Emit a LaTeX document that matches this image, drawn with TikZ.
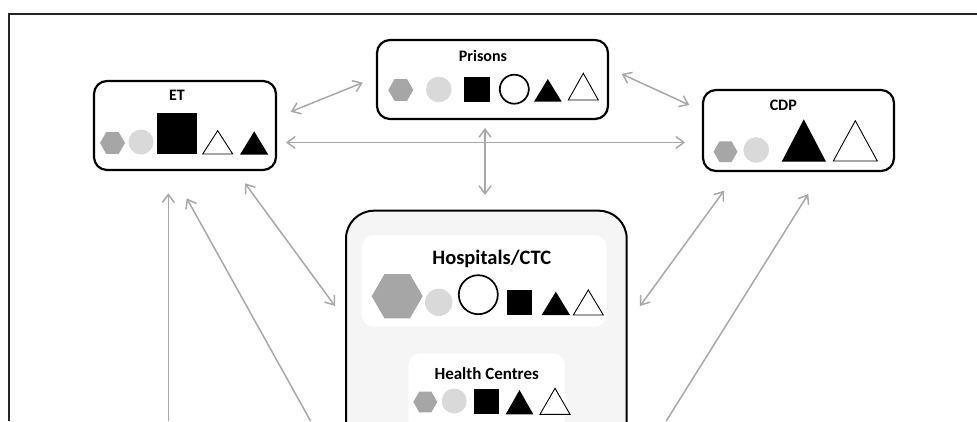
\documentclass[tikz,border=0pt]{standalone}
\usepackage{fontspec}
\setmainfont{Carlito}
\usetikzlibrary{shapes.geometric,arrows.meta}
\definecolor{hexgray}{RGB}{166,166,166}
\definecolor{cirgray}{RGB}{217,217,217}
\definecolor{arrgray}{RGB}{168,168,168}
\definecolor{panel}{RGB}{245,245,245}
\begin{document}
\begin{tikzpicture}[x=1pt,y=-1pt,
 box/.style={draw=black, line width=2.2pt, rounded corners=13pt, fill=white, inner sep=0pt},
 arr/.style={draw=arrgray, line width=1.5pt, {Straight Barb[length=8pt,width=12pt]}-{Straight Barb[length=8pt,width=12pt]}},
 uarr/.style={draw=arrgray, line width=1.5pt, -{Straight Barb[length=8pt,width=12pt]}},
 hexs/.style={regular polygon, regular polygon sides=6, inner sep=0pt, minimum size=#1, fill=hexgray},
 dotc/.style={circle, inner sep=0pt, minimum size=#1, fill=cirgray},
 ring/.style={circle, inner sep=0pt, minimum size=#1, draw=black, line width=1.7pt, fill=white},
 lbl/.style={font=\bfseries\fontsize{16}{19}\selectfont, inner sep=0pt, anchor=base},
 wtri/.style={draw=black, line width=0.9pt, fill=white, line join=miter},
 btri/.style={fill=black},
 ]
\useasboundingbox (0,0) rectangle (977,421);
% frame
\draw[line width=2pt, black!85] (9,421) -- (9,13.5) -- (977,13.5);

% arrow end coordinates
\coordinate (a1s) at (290.7,111.7); \coordinate (a1e) at (362.7,82.7);
\coordinate (a2s) at (286,142.5);   \coordinate (a2e) at (685,142.5);
\coordinate (a3s) at (621.7,74);    \coordinate (a3e) at (689.3,105);
\coordinate (a4s) at (485,128);     \coordinate (a4e) at (485,195);
\coordinate (a5s) at (245,183.3);   \coordinate (a5e) at (335,306);
\coordinate (a6s) at (168.3,421);   \coordinate (a6e) at (168.3,193.3);
\coordinate (a7s) at (310.6,421);   \coordinate (a7e) at (186.7,198.3);
\coordinate (a8s) at (640,306);     \coordinate (a8e) at (724,190.7);
\coordinate (a9s) at (666.2,421);   \coordinate (a9e) at (808.3,194);

\draw[arr] (a1s) -- (a1e);
\draw[arr] (a2s) -- (a2e);
\draw[arr] (a3s) -- (a3e);
\draw[arr] (a4s) -- (a4e);
\draw[arr] (a5s) -- (a5e);
\draw[uarr] (a6s) -- (a6e);
\draw[uarr] (a7s) -- (a7e);
\draw[arr] (a8s) -- (a8e);
\draw[uarr] (a9s) -- (a9e);

% ET
\node[box, minimum width=182pt, minimum height=89pt] (et) at (185,125.5) {};
\node[lbl] (etl) at (177,100.7) {ET};
\node[hexs=25pt] (eth) at (112.5,143) {};
\node[dotc=25pt] (etc) at (141,142) {};
\fill (157.3,112.7) rectangle (197.3,154);
\draw[wtri] (202.7,154) -- (232.7,154) -- (217.7,130.7) -- cycle;
\fill[btri] (240,154.7) -- (268.3,154.7) -- (254.2,131.3) -- cycle;

% Prisons
\node[box, minimum width=231pt, minimum height=79pt] (pr) at (492.5,79.5) {};
\node[lbl] (prl) at (483,61.7) {Prisons};
\node[hexs=25pt] (prh) at (400.8,90) {};
\node[dotc=25.6pt] (prc) at (438.8,89.5) {};
\fill (464.3,76.7) rectangle (490,102.3);
\node[ring=29pt] (prr) at (514.3,89.2) {};
\fill[btri] (534,101.7) -- (561.7,101.7) -- (547.8,79) -- cycle;
\draw[wtri] (568.3,100) -- (598.3,100) -- (583.3,73.3) -- cycle;

% CDP
\node[box, minimum width=191pt, minimum height=81pt] (cdp) at (798.5,130.5) {};
\node[lbl] (cdpl) at (783.3,110) {CDP};
\node[hexs=24pt] (cdph) at (725.5,151.7) {};
\node[dotc=25.6pt] (cdpc) at (756.2,150) {};
\fill[btri] (781.7,161.7) -- (826,161.7) -- (803.8,119.3) -- cycle;
\draw[wtri] (833.3,161) -- (877.3,161) -- (855.3,120.7) -- cycle;

% Hospitals panel (cut at bottom)
\begin{scope}
\clip (0,0) rectangle (977,421);
\node[draw=black, line width=2pt, fill=panel, rounded corners=28pt, minimum width=280.7pt, minimum height=250pt, inner sep=0pt] (hosp) at (486.35,335.7) {};
\node[fill=white, rounded corners=12pt, minimum width=245pt, minimum height=91.7pt, inner sep=0pt] (hin) at (484.2,280.85) {};
\node[fill=white, rounded corners=12pt, minimum width=156.7pt, minimum height=90pt, inner sep=0pt] (hcin) at (486.65,398.3) {};

\node[lbl, font=\bfseries\fontsize{20.5}{24}\selectfont] (hl) at (491.7,264.3) {Hospitals/CTC};
\node[hexs=51pt] (hh) at (397.2,296.2) {};
\node[dotc=27.4pt] (hc) at (438.7,302.3) {};
\node[ring=39pt] (hr) at (478.3,294.7) {};
\fill (506.7,290) rectangle (531.7,315);
\fill[btri] (541.7,315) -- (570,315) -- (555.8,291.7) -- cycle;
\draw[wtri] (573.3,315) -- (603.3,315) -- (588.3,290) -- cycle;

\node[lbl, font=\bfseries\fontsize{17}{20}\selectfont] (hcl) at (486.7,379) {Health Centres};
\node[hexs=24pt] (hch) at (425.3,402) {};
\node[dotc=25pt] (hcc) at (454.2,401) {};
\fill (474.3,389.3) rectangle (499.3,414.3);
\fill[btri] (505.7,414.3) -- (533.3,414.3) -- (519.5,390) -- cycle;
\draw[wtri] (540,414.3) -- (570,414.3) -- (555,388.3) -- cycle;
\end{scope}
\end{tikzpicture}
\end{document}
